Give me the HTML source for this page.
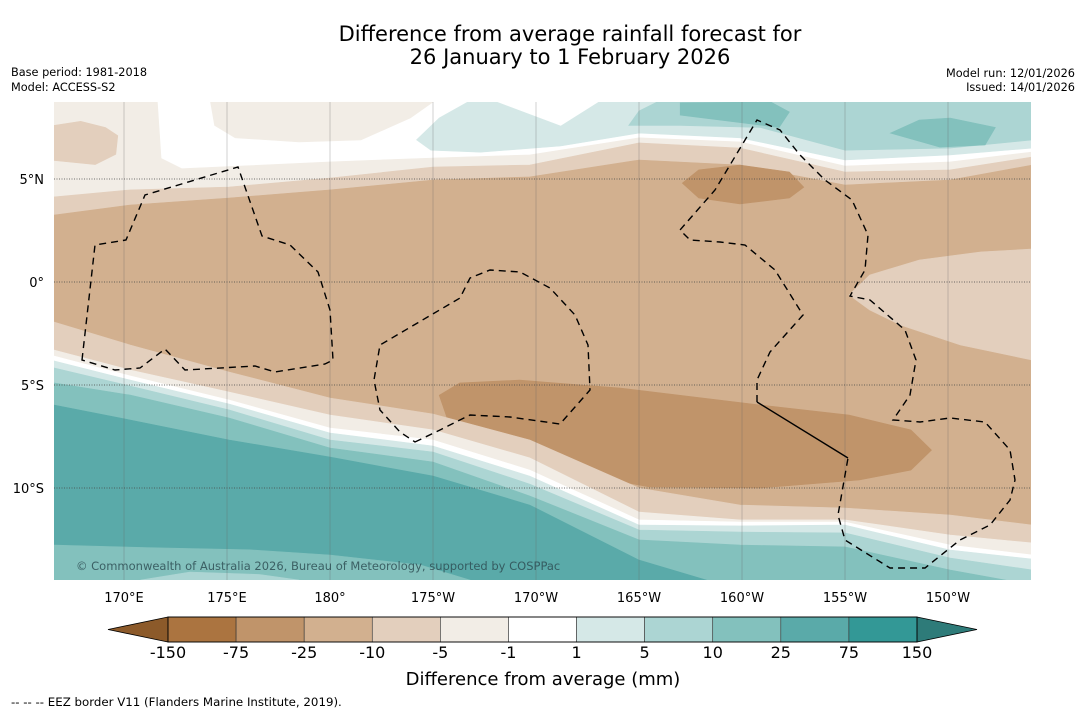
<!DOCTYPE html>
<html><head><meta charset="utf-8">
<style>
html,body{margin:0;padding:0;background:#fff;}
body{width:1085px;height:713px;position:relative;overflow:hidden;font-family:"DejaVu Sans","Liberation Sans",sans-serif;}
</style></head>
<body>
<svg id="chart" width="1085" height="713" xmlns="http://www.w3.org/2000/svg" font-family="DejaVu Sans, Liberation Sans, sans-serif">
<text x="570" y="41" font-size="21" text-anchor="middle" fill="#000">Difference from average rainfall forecast for</text>
<text x="570" y="64" font-size="21" text-anchor="middle" fill="#000">26 January to 1 February 2026</text>
<text x="11" y="76" font-size="11.3">Base period: 1981-2018</text>
<text x="11" y="91" font-size="11.3">Model: ACCESS-S2</text>
<text x="1075" y="77" font-size="11.3" text-anchor="end">Model run: 12/01/2026</text>
<text x="1075" y="91" font-size="11.3" text-anchor="end">Issued: 14/01/2026</text>
<defs><clipPath id="mapclip"><rect x="54" y="102" width="977" height="478"/></clipPath></defs>
<g id="map" clip-path="url(#mapclip)"></g>
<g id="grid"></g>
<g id="eez" fill="none" stroke="#000" stroke-width="1.4" stroke-dasharray="7,5">
<path d="M82,360 L95,245 L126,240 L145,195 L238,167 L262,236 L290,245 L318,272 L330,310 L333,360 L325,364 L275,372 L255,366 L185,370 L165,349 L140,368 L115,370 Z"/>
<path d="M415,442 L440,430 L470,415 L510,417 L560,424 L590,390 L588,345 L575,315 L550,288 L520,272 L490,270 L470,278 L460,298 L380,345 L374,380 L380,410 L400,432 Z"/>
<path d="M757,402 L757,380 L770,352 L803,315 L775,270 L745,245 L720,242 L690,240 L680,230 L715,190 L745,140 L757,120 L780,130 L800,155 L825,180 L852,200 L868,235 L865,270 L850,296 L870,300 L905,330 L916,360 L910,395 L893,420 L920,422 L950,418 L985,422 L1010,450 L1015,480 L1010,500 L990,525 L960,540 L925,568 L890,568 L845,540 L838,515 L848,458"/>
<path stroke-dasharray="none" d="M757,402 L848,458"/>
</g>
<text x="76" y="570" font-size="11.5" fill="#2f4f55" fill-opacity="0.85">© Commonwealth of Australia 2026, Bureau of Meteorology, supported by COSPPac</text>
<g id="ticks" font-size="13"></g>
<g id="cbar"></g>
<text x="543" y="685" font-size="18" text-anchor="middle">Difference from average (mm)</text>
<text x="11" y="706" font-size="11.8">--  --  -- EEZ border V11 (Flanders Marine Institute, 2019).</text>
</svg>
<script>
// ---- data ----
const lonTicks = [170,175,180,185,190,195,200,205,210];
const lonTickLabels = ["170°E","175°E","180°","175°W","170°W","165°W","160°W","155°W","150°W"];
const latTicks = [5,0,-5,-10];
const latTickLabels = ["5°N","0°","5°S","10°S"];
const cbarBounds = ["-150","-75","-25","-10","-5","-1","1","5","10","25","75","150"];
const cbarColors = ["#ab7440","#c0946a","#d2b08f","#e3cfbd","#f2ede6","#ffffff","#d5e8e7","#acd5d3","#83c1bd","#5aaaa9","#339896"];
const cbarLow = "#8c5a2a", cbarHigh = "#2e7b79";

// contour lines (lon, lat)
const lineLons = [166.6,170.3,175.1,180,185,189.7,195,199.9,205,210.1,214.1];
const n1Lats = [3.25,3.74,4.08,4.47,4.95,5.1,5.92,5.68,4.71,4.95,5.68];
const n2Lats = [4.13,4.47,4.61,5.05,5.58,5.68,6.75,6.5,5.34,5.44,6.07];
const n3Lons = [166.6,171.6,171.8,172.8,175.1,180,185,189.7,195,199.9,205,210.1,214.1];
const n3Lats = [9,9,6.0,5.5,5.6,5.83,6.02,6.17,7.0,6.8,5.63,5.83,6.31];
const s1Lats = [-1.94,-3.06,-4.37,-5.63,-6.41,-7.67,-10.0,-10.83,-10.97,-11.31,-11.8];
const s2Lats = [-3.3,-4.27,-5.34,-6.46,-7.18,-8.54,-11.17,-11.55,-11.55,-12.28,-12.67];
const s3Lats = [-3.59,-4.56,-5.73,-7.09,-7.67,-9.13,-11.55,-11.65,-11.65,-12.77,-13.25];
const s4Lats = [-3.83,-4.76,-5.92,-7.33,-7.96,-9.42,-11.8,-11.84,-11.8,-13.01,-13.45];
const s5Lats = [-4.17,-5.05,-6.21,-7.67,-8.25,-9.81,-12.04,-12.14,-12.18,-13.4,-13.98];
const s6Lats = [-4.9,-5.49,-6.6,-8.06,-8.74,-10.39,-12.52,-12.77,-12.86,-13.98,-14.71];
const s7Lats = [-5.97,-6.7,-7.67,-8.5,-9.42,-10.83,-13.5,-14.95,-15.9,-15.9,-15.9];

// closed patches (lon, lat)
const topBeigeLons = [174.2,174.4,175.4,178.5,181.5,183.9,185];
const topBeigeLats = [8.74,7.6,7.0,6.8,6.9,7.96,8.74];
const leftBlobLons = [166.6,167.9,169.1,169.7,169.6,168.6,166.6];
const leftBlobLats = [7.6,7.8,7.5,7.1,6.2,5.7,5.9];
const teal1Lons = [184.2,185.3,186.8,214.1,214.1,210.1,205,199.9,195,191.2,187.3,184.9];
const teal1Lats = [6.9,7.96,8.8,8.8,6.5,6.17,5.92,7.0,7.23,6.6,6.3,6.4];
const wedgeLons = [188,191.2,193.1];
const wedgeLats = [8.8,7.6,8.8];
const teal2Lons = [194.5,195,196,214.1,214.1,210.1,205,200.9,197];
const teal2Lats = [7.6,8.3,8.8,8.8,6.9,6.5,6.4,7.5,7.6];
const teal3aLons = [197,197,201.8,202.3,201.4];
const teal3aLats = [8.7,8.1,7.5,8.25,8.74];
const teal3bLons = [207.2,208.6,210.1,212.3,211.8,209.6];
const teal3bLats = [7.23,7.86,7.96,7.5,6.65,6.55];
const dry1Lons = [197.1,197.9,199.9,202.3,203,202.3,199.9,197.9];
const dry1Lats = [4.8,5.44,5.68,5.34,4.6,4.08,3.79,4.08];
const dry2Lons = [185.3,186.3,189.2,194.1,200.9,205.2,208.2,209.2,208.2,205.7,200.9,195.5,191.2,188.3,185.8];
const dry2Lats = [-5.5,-4.9,-4.76,-5.15,-5.97,-6.46,-7.18,-8.16,-9.13,-9.61,-10.0,-9.95,-9.13,-8.16,-6.94];
const eastLons = [205.2,206.2,208.6,211.6,214.1,214.1,210.6,207.7,206.2];
const eastLats = [-0.63,0.34,1.07,1.46,1.6,-3.79,-3.06,-2.09,-1.36];
const swLons = [166.6,171.3,176.1,180,184.4,186.8,186.8,166.6];
const swLats = [-12.77,-12.9,-13.0,-13.25,-13.74,-14.47,-16,-16];
const sw2Lons = [170.8,173.2,176.6,178.5];
const sw2Lats = [-14.47,-14.08,-14.2,-14.47];

// ---- scales ----
const X = lon => 124 + (lon - 170) * 20.6;
const Y = lat => 282 - lat * 20.6;
const NS = "http://www.w3.org/2000/svg";
const map = document.getElementById('map');
map.innerHTML = '<rect x="54" y="102" width="977" height="478" fill="#ffffff"/>';

function pts(lons, lats){ return lons.map((l,i)=>X(l).toFixed(1)+','+Y(lats[i]).toFixed(1)); }
function addPoly(p, color, name){
  const el = document.createElementNS(NS,'polygon');
  el.setAttribute('points', p.join(' '));
  el.setAttribute('fill', color);
  el.setAttribute('stroke', color);
  el.setAttribute('stroke-width', '0.6');
  
  
  map.appendChild(el);
}
function below(lons, lats, color, name){
  const p = pts(lons, lats);
  p.push(X(lons[lons.length-1])+','+Y(-20), X(lons[0])+','+Y(-20));
  addPoly(p, color, name);
}
function closed(lons, lats, color, name){ addPoly(pts(lons, lats), color, name); }

below(n3Lons, n3Lats, "#f2ede6", 'band-minus5-to-minus1-north');
closed(topBeigeLons, topBeigeLats, "#f2ede6", 'patch-minus5-top');
closed(leftBlobLons, leftBlobLats, "#e3cfbd", 'patch-minus10-northwest');
closed(teal1Lons, teal1Lats, "#d5e8e7", 'band-1-to-5-north');
closed(wedgeLons, wedgeLats, "#ffffff", 'patch-near-zero-top');
closed(teal2Lons, teal2Lats, "#acd5d3", 'band-5-to-10-north');
closed(teal3aLons, teal3aLats, "#83c1bd", 'patch-10-to-25-north-a');
closed(teal3bLons, teal3bLats, "#83c1bd", 'patch-10-to-25-north-b');
below(lineLons, n2Lats, "#e3cfbd", 'band-minus10-to-minus5-north');
below(lineLons, n1Lats, "#d2b08f", 'band-minus25-to-minus10');
closed(dry1Lons, dry1Lats, "#c0946a", 'patch-minus75-north');
closed(dry2Lons, dry2Lats, "#c0946a", 'patch-minus75-south');
closed(eastLons, eastLats, "#e3cfbd", 'patch-minus10-east');
below(lineLons, s1Lats, "#e3cfbd", 'band-minus10-to-minus5-south');
below(lineLons, s2Lats, "#f2ede6", 'band-minus5-to-minus1-south');
below(lineLons, s3Lats, "#ffffff", 'band-near-zero-south');
below(lineLons, s4Lats, "#d5e8e7", 'band-1-to-5-south');
below(lineLons, s5Lats, "#acd5d3", 'band-5-to-10-south');
below(lineLons, s6Lats, "#83c1bd", 'band-10-to-25-south');
below(lineLons, s7Lats, "#5aaaa9", 'band-25-to-75-south');
closed(swLons, swLats, "#83c1bd", 'patch-10-to-25-southwest');
closed(sw2Lons, sw2Lats, "#acd5d3", 'patch-5-to-10-southwest');

// gridlines & ticks
const grid = document.getElementById('grid');
const ticks = document.getElementById('ticks');
lonTicks.forEach((lon,i)=>{
  const l = document.createElementNS(NS,'line');
  l.setAttribute('x1',X(lon)); l.setAttribute('x2',X(lon));
  l.setAttribute('y1',102); l.setAttribute('y2',580);
  l.setAttribute('stroke','#666'); l.setAttribute('stroke-width','0.5'); l.setAttribute('stroke-opacity','0.6');
  
  
  grid.appendChild(l);
  const t = document.createElementNS(NS,'text');
  t.setAttribute('x',X(lon)); t.setAttribute('y',602); t.setAttribute('text-anchor','middle');
  t.textContent = lonTickLabels[i];
  
  
  ticks.appendChild(t);
});
latTicks.forEach((lat,i)=>{
  const l = document.createElementNS(NS,'line');
  l.setAttribute('x1',54); l.setAttribute('x2',1031);
  l.setAttribute('y1',Y(lat)); l.setAttribute('y2',Y(lat));
  l.setAttribute('stroke','#444'); l.setAttribute('stroke-width','0.7'); l.setAttribute('stroke-dasharray','1,1.5');
  
  
  grid.appendChild(l);
  const t = document.createElementNS(NS,'text');
  t.setAttribute('x',44); t.setAttribute('y',Y(lat)+5); t.setAttribute('text-anchor','end');
  t.textContent = latTickLabels[i];
  
  
  ticks.appendChild(t);
});

// colorbar
const cbar = document.getElementById('cbar');
const cx0 = 168, cw = 749 / cbarColors.length, cy = 617, ch = 25;
const lowTri = document.createElementNS(NS,'polygon');
lowTri.setAttribute('points', `${cx0},${cy} 108,${cy+ch/2} ${cx0},${cy+ch}`);
lowTri.setAttribute('fill', cbarLow); lowTri.setAttribute('stroke','#000'); lowTri.setAttribute('stroke-width','0.8');


cbar.appendChild(lowTri);
const hiTri = document.createElementNS(NS,'polygon');
hiTri.setAttribute('points', `${cx0+749},${cy} 977,${cy+ch/2} ${cx0+749},${cy+ch}`);
hiTri.setAttribute('fill', cbarHigh); hiTri.setAttribute('stroke','#000'); hiTri.setAttribute('stroke-width','0.8');


cbar.appendChild(hiTri);
cbarColors.forEach((c,i)=>{
  const r = document.createElementNS(NS,'rect');
  r.setAttribute('x', cx0 + i*cw); r.setAttribute('y', cy); r.setAttribute('width', cw); r.setAttribute('height', ch);
  r.setAttribute('fill', c); r.setAttribute('stroke', '#333'); r.setAttribute('stroke-width','0.6');
  
  
  cbar.appendChild(r);
});
const frame = document.createElementNS(NS,'rect');
frame.setAttribute('x',cx0); frame.setAttribute('y',cy); frame.setAttribute('width',749); frame.setAttribute('height',ch);
frame.setAttribute('fill','none'); frame.setAttribute('stroke','#000'); frame.setAttribute('stroke-width','0.9');


cbar.appendChild(frame);
cbarBounds.forEach((b,i)=>{
  const t = document.createElementNS(NS,'text');
  t.setAttribute('x', cx0 + i*cw); t.setAttribute('y', 658); t.setAttribute('text-anchor','middle');
  t.setAttribute('font-size','16');
  t.textContent = b;
  
  
  cbar.appendChild(t);
});
</script>
</body></html>
